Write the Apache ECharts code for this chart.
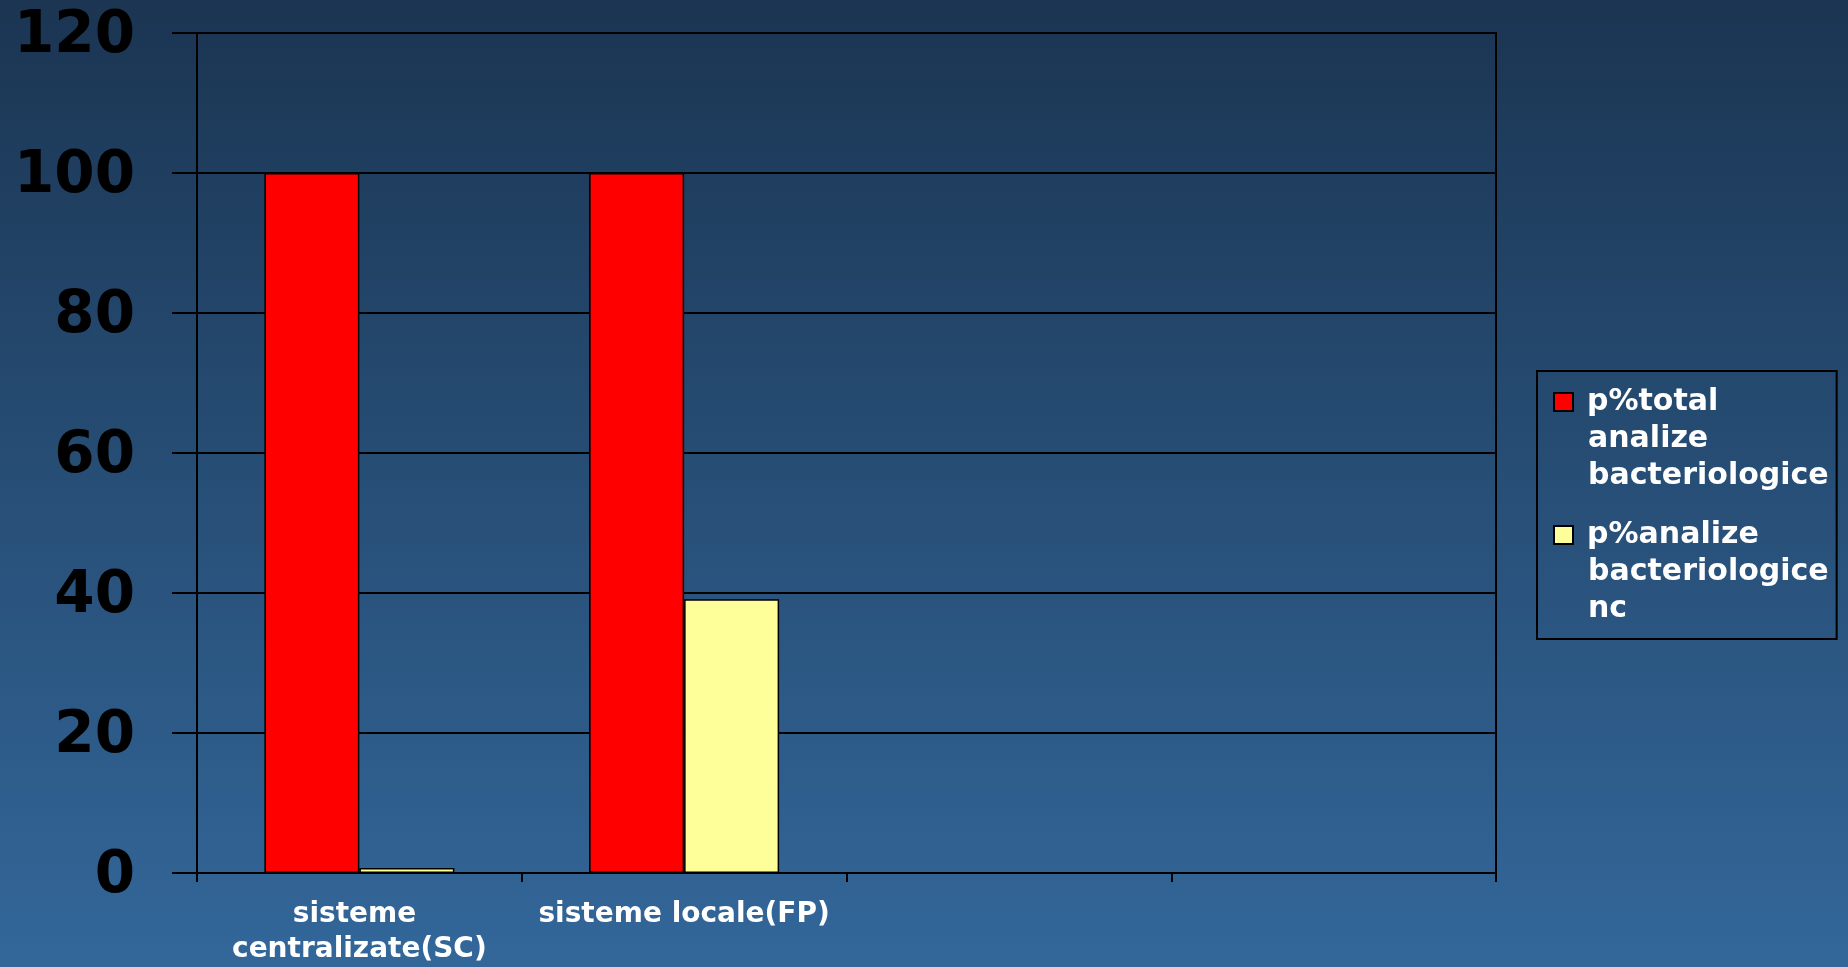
<!DOCTYPE html>
<html>
<head>
<meta charset="utf-8">
<script src="https://cdn.jsdelivr.net/npm/echarts@6/dist/echarts.min.js"></script>
<style>
html,body{margin:0;padding:0;width:1848px;height:967px;overflow:hidden;}
#c{width:1848px;height:967px;}
</style>
</head>
<body>
<div id="c"></div>
<script>
var categories = ['sisteme centralizate(SC)', 'sisteme locale(FP)', '', ''];
var seriesNames = ['p%total analize bacteriologice', 'p%analize bacteriologice nc'];
var totalValues = [100, 100, null, null];
var ncValues = [0.7, 39.1, null, null];
var yTicks = { min: 0, max: 120, interval: 20 };
var colors = ['#ff0000', '#ffff99'];

var FONT = 'DejaVu Sans';
var chart = echarts.init(document.getElementById('c'));

var option = {
  backgroundColor: new echarts.graphic.LinearGradient(0, 0, 0, 1, [
    { offset: 0, color: '#1b3552' },
    { offset: 1, color: '#33679a' }
  ]),
  animation: false,
  grid: {
    left: 197, right: 352, top: 33, bottom: 94,
    show: true, borderColor: '#000', borderWidth: 2, backgroundColor: 'transparent'
  },
  legend: {
    orient: 'vertical',
    left: 1537, top: 371,
    padding: [16, 8, 15, 13],
    itemGap: 29,
    icon: 'none',
    itemWidth: 0,
    itemHeight: 18,
    borderColor: '#000',
    borderWidth: 2,
    selectedMode: false,
    data: seriesNames,
    formatter: function (name) {
      var idx = seriesNames.indexOf(name);
      var parts = name.split(' ');
      var key = idx === 0 ? 'b0' : 'b1';
      var out = [];
      for (var i = 0; i < parts.length; i++) {
        out.push((i === 0 ? '{' + key + '|}' : '{ind|}') + '{g|}{t|' + parts[i] + '}');
      }
      return out.join('\n');
    },
    textStyle: {
      rich: {
        b0: { width: 17, height: 16, backgroundColor: colors[0], borderColor: '#000', borderWidth: 2 },
        b1: { width: 17, height: 16, backgroundColor: colors[1], borderColor: '#000', borderWidth: 2 },
        ind: { width: 18, height: 16 },
        g: { width: 15 },
        t: { color: '#ffffff', fontSize: 30, fontWeight: 'bold', fontFamily: FONT, lineHeight: 37 }
      }
    }
  },
  xAxis: {
    type: 'category',
    data: categories,
    axisLine: { show: true, lineStyle: { color: '#000', width: 2 } },
    axisTick: { show: true, length: 9, alignWithLabel: false, lineStyle: { color: '#000', width: 2 } },
    axisLabel: {
      interval: 0,
      color: '#ffffff',
      fontSize: 28,
      fontWeight: 'bold',
      fontFamily: FONT,
      lineHeight: 35,
      margin: 24,
      width: 320,
      overflow: 'break'
    },
    splitLine: { show: false }
  },
  yAxis: {
    type: 'value',
    min: yTicks.min,
    max: yTicks.max,
    interval: yTicks.interval,
    axisLine: { show: true, lineStyle: { color: '#000', width: 2 } },
    axisTick: { show: true, length: 25, lineStyle: { color: '#000', width: 2 } },
    axisLabel: {
      margin: 62,
      formatter: '{v|{value}}',
      rich: {
        v: {
          color: '#000',
          fontSize: 58,
          fontWeight: 'bold',
          fontFamily: FONT,
          padding: [8, 0, 0, 0]
        }
      }
    },
    splitLine: { show: true, lineStyle: { color: '#000', width: 2 } }
  },
  series: [
    {
      name: seriesNames[0],
      type: 'bar',
      data: totalValues,
      barGap: '0%',
      barCategoryGap: '41.5%',
      itemStyle: { color: colors[0], borderColor: '#000', borderWidth: 1.5 }
    },
    {
      name: seriesNames[1],
      type: 'bar',
      data: ncValues,
      barGap: '0%',
      barCategoryGap: '41.5%',
      itemStyle: { color: colors[1], borderColor: '#000', borderWidth: 1.5 }
    }
  ]
};
chart.setOption(option);
</script>
</body>
</html>
